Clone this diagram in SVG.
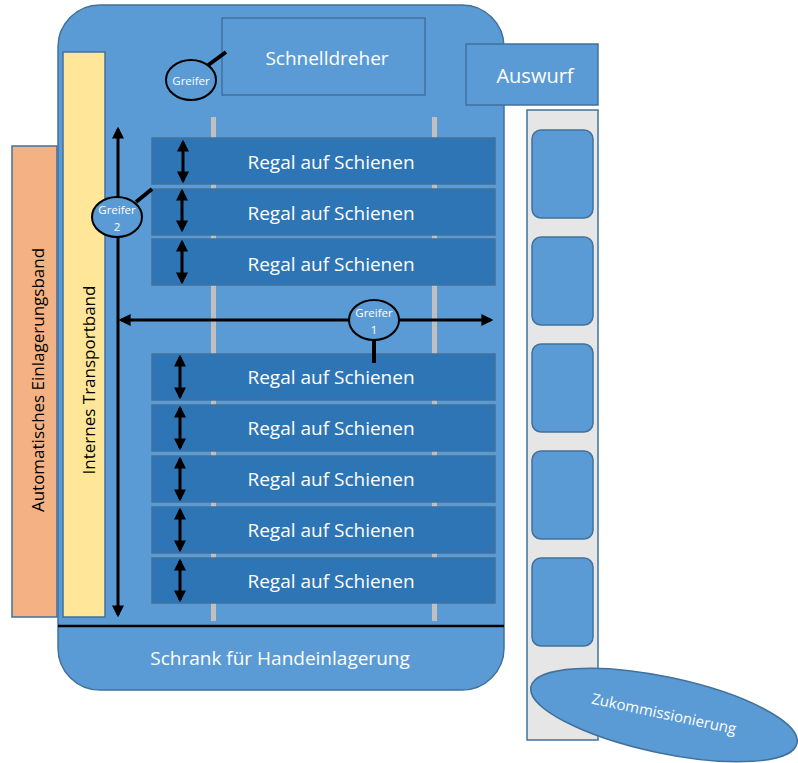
<svg xmlns="http://www.w3.org/2000/svg" width="798" height="763" viewBox="0 0 798 763">
<defs>
<style>
.blue{fill:#5B9BD5;stroke:#41719C;stroke-width:1.5}
.shelf{fill:#2E75B6;stroke:#41719C;stroke-width:1.5}
.t{font-family:"Open Sans","Liberation Sans",sans-serif;fill:#FFFFFF;text-anchor:middle;dominant-baseline:central}
.dk{font-family:"Open Sans","Liberation Sans",sans-serif;fill:#000000;text-anchor:middle;dominant-baseline:central}
.rail{fill:#BFBFBF}
.ar{stroke:#000;stroke-width:3;fill:none}
.grip{fill:#5B9BD5;stroke:#000;stroke-width:2}
.g{font-size:11.5px}
.r{font-size:19px}
</style>
<marker id="ah" viewBox="0 0 10 10" refX="8" refY="5" markerWidth="4" markerHeight="4" orient="auto-start-reverse" markerUnits="strokeWidth">
<path d="M0,0 L10,5 L0,10 z" fill="#000"/>
</marker>
</defs>
<g id="schrank">
<rect class="blue" x="58" y="5" width="446" height="685" rx="42"/>
<line x1="58" y1="626" x2="504" y2="626" stroke="#000" stroke-width="2.5"/>
<text class="t r" x="280" y="658">Schrank für Handeinlagerung</text>
</g>
<g id="rails">
<rect class="rail" x="211" y="117" width="5" height="504"/>
<rect class="rail" x="432" y="117" width="5" height="504"/>
</g>
<g id="schnelldreher">
<rect class="blue" x="222" y="18" width="203" height="77"/>
<text class="t r" x="327" y="58">Schnelldreher</text>
</g>
<g id="auswurf">
<rect class="blue" x="466" y="44" width="132" height="61"/>
<text class="t" x="535" y="75" font-size="20">Auswurf</text>
</g>
<g id="ausgabe">
<rect x="527" y="110" width="71" height="630" fill="#E7E6E6" stroke="#41719C" stroke-width="1.5"/>
<rect class="blue" x="532" y="130" width="61" height="88" rx="9"/>
<rect class="blue" x="532" y="237" width="61" height="88" rx="9"/>
<rect class="blue" x="532" y="344" width="61" height="88" rx="9"/>
<rect class="blue" x="532" y="451" width="61" height="88" rx="9"/>
<rect class="blue" x="532" y="558" width="61" height="88" rx="9"/>
</g>
<g id="zukommissionierung">
<ellipse class="blue" cx="664" cy="715" rx="136" ry="38" transform="rotate(12 664 715)"/>
<text class="t" x="664" y="713" font-size="15" transform="rotate(12 664 713)">Zukommissionierung</text>
</g>
<g id="einlagerungsband">
<rect x="12" y="146" width="45" height="471" fill="#F4B183" stroke="#41719C" stroke-width="1.5"/>
<text class="dk" x="37" y="380" font-size="17" transform="rotate(-90 37 380)">Automatisches Einlagerungsband</text>
</g>
<g id="transportband">
<rect x="63" y="52" width="42" height="565" fill="#FFE699" stroke="#41719C" stroke-width="1.5"/>
<text class="dk" x="88" y="380" font-size="17" transform="rotate(-90 88 380)">Internes Transportband</text>
</g>
<g id="regale">
<rect class="shelf" x="152" y="138" width="343" height="46"/>
<text class="t r" x="331" y="162">Regal auf Schienen</text>
<rect class="shelf" x="152" y="189" width="343" height="46"/>
<text class="t r" x="331" y="213">Regal auf Schienen</text>
<rect class="shelf" x="152" y="239" width="343" height="46"/>
<text class="t r" x="331" y="264">Regal auf Schienen</text>
<rect class="shelf" x="152" y="354" width="343" height="46"/>
<text class="t r" x="331" y="377">Regal auf Schienen</text>
<rect class="shelf" x="152" y="405" width="343" height="46"/>
<text class="t r" x="331" y="428">Regal auf Schienen</text>
<rect class="shelf" x="152" y="456" width="343" height="46"/>
<text class="t r" x="331" y="479">Regal auf Schienen</text>
<rect class="shelf" x="152" y="507" width="343" height="46"/>
<text class="t r" x="331" y="530">Regal auf Schienen</text>
<rect class="shelf" x="152" y="558" width="343" height="45"/>
<text class="t r" x="331" y="581">Regal auf Schienen</text>
</g>
<g id="connectors">
<line class="ar" x1="118" y1="615" x2="118" y2="129" marker-start="url(#ah)" marker-end="url(#ah)"/>
<line class="ar" x1="121" y1="320" x2="491" y2="320" marker-start="url(#ah)" marker-end="url(#ah)"/>
<line class="ar" x1="183" y1="142" x2="183" y2="181" marker-start="url(#ah)" marker-end="url(#ah)"/>
<line class="ar" x1="182" y1="191" x2="182" y2="230" marker-start="url(#ah)" marker-end="url(#ah)"/>
<line class="ar" x1="182" y1="242" x2="182" y2="282" marker-start="url(#ah)" marker-end="url(#ah)"/>
<line class="ar" x1="180" y1="357" x2="180" y2="397" marker-start="url(#ah)" marker-end="url(#ah)"/>
<line class="ar" x1="180" y1="408" x2="180" y2="448" marker-start="url(#ah)" marker-end="url(#ah)"/>
<line class="ar" x1="180" y1="459" x2="180" y2="499" marker-start="url(#ah)" marker-end="url(#ah)"/>
<line class="ar" x1="180" y1="510" x2="180" y2="550" marker-start="url(#ah)" marker-end="url(#ah)"/>
<line class="ar" x1="180" y1="561" x2="180" y2="600" marker-start="url(#ah)" marker-end="url(#ah)"/>
<line x1="207" y1="66" x2="226" y2="52" stroke="#000" stroke-width="4"/>
<line x1="136" y1="202" x2="152" y2="189" stroke="#000" stroke-width="4"/>
<line x1="374" y1="340" x2="374" y2="363" stroke="#000" stroke-width="4"/>
</g>
<g id="greifer">
<ellipse class="grip" cx="191" cy="80" rx="25" ry="20"/>
<text class="t g" x="191" y="80">Greifer</text>
</g>
<g id="greifer2">
<ellipse class="grip" cx="117" cy="217" rx="25" ry="20"/>
<text class="t g" x="117" y="209">Greifer</text>
<text class="t g" x="117" y="226">2</text>
</g>
<g id="greifer1">
<ellipse class="grip" cx="374" cy="320" rx="25" ry="20"/>
<text class="t g" x="374" y="312">Greifer</text>
<text class="t g" x="374" y="329">1</text>
</g>
</svg>
